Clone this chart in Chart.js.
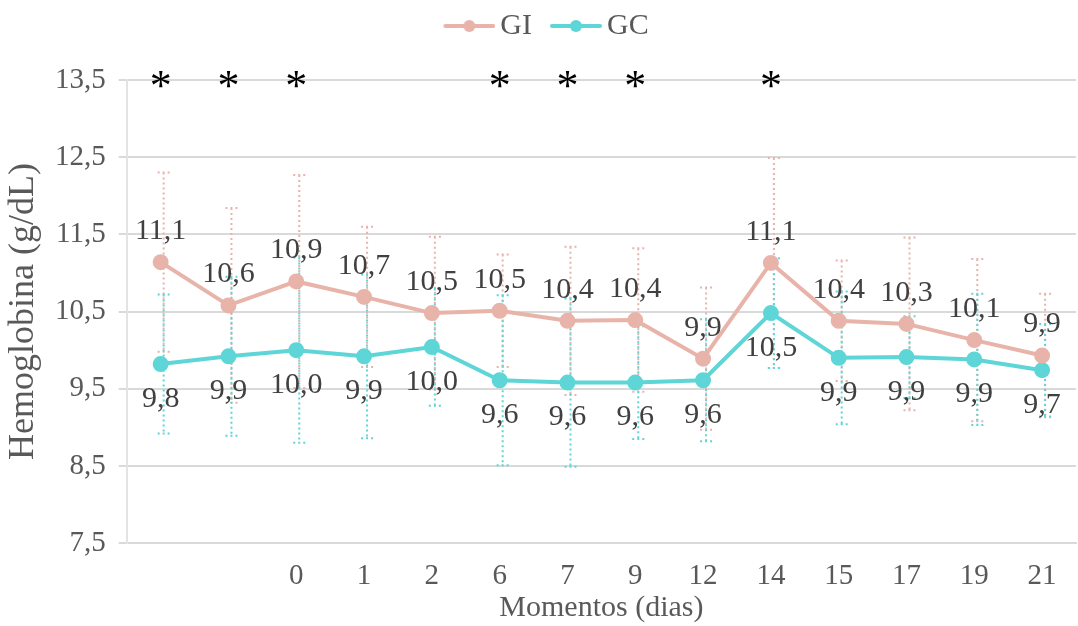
<!DOCTYPE html>
<html>
<head>
<meta charset="utf-8">
<script src="https://cdn.jsdelivr.net/npm/chart.js@4/dist/chart.umd.min.js"></script>
<style>
  html, body { margin: 0; padding: 0; background: #ffffff; overflow: hidden; }
  #wrap { width: 1086px; height: 626px; position: relative; }
</style>
</head>
<body>
<div id="wrap"><canvas id="c"></canvas></div>
<script>
// ---- data ----
const categories = ["", "", "0", "1", "2", "6", "7", "9", "12", "14", "15", "17", "19", "21"];
const giMeans = [11.14, 10.58, 10.89, 10.69, 10.48, 10.51, 10.38, 10.39, 9.89, 11.13, 10.38, 10.34, 10.13, 9.93];
const giSD    = [1.16, 1.26, 1.38, 0.91, 0.99, 0.73, 0.96, 0.93, 0.92, 1.36, 0.78, 1.12, 1.05, 0.80];
const gcMeans = [9.82, 9.92, 10.00, 9.92, 10.04, 9.61, 9.58, 9.58, 9.61, 10.48, 9.90, 9.91, 9.88, 9.74];
const gcSD    = [0.90, 1.03, 1.20, 1.06, 0.76, 1.10, 1.09, 0.73, 0.79, 0.71, 0.86, 0.53, 0.85, 0.60];
const sigMarks = ["*", "*", "*", "", "", "*", "*", "*", "", "*", "", "", "", ""];
const yTicks = [7.5, 8.5, 9.5, 10.5, 11.5, 12.5, 13.5];

const GI_COLOR = "#E8B3A9";
const GC_COLOR = "#5ED5D7";
const FONT = "'Liberation Serif', 'Times New Roman', serif";

function fmt(v) { return v.toFixed(1).replace(".", ","); }

// legend icon: line with a dot; drawn asymmetrically inside its canvas so the
// gap to the text is small while items stay well separated
function legendIcon(color) {
  const c = document.createElement("canvas");
  c.width = 70; c.height = 14;
  const g = c.getContext("2d");
  g.strokeStyle = color; g.lineWidth = 4; g.lineCap = "round";
  g.beginPath(); g.moveTo(20, 7); g.lineTo(68, 7); g.stroke();
  g.fillStyle = color; g.beginPath(); g.arc(44, 7, 6, 0, Math.PI * 2); g.fill();
  return c;
}
const icons = [legendIcon(GI_COLOR), legendIcon(GC_COLOR)];

const sdArrays = [giSD, gcSD];

const legendSpace = {
  id: "legendSpace",
  beforeLayout(chart) {
    const lg = chart.legend;
    if (lg && !lg._patched) {
      const orig = lg.fit;
      lg.fit = function () { orig.call(this); this.height += 29; };
      lg._patched = true;
    }
  }
};

const errorBars = {
  id: "errorBars",
  beforeDatasetsDraw(chart) {
    const ctx = chart.ctx, ys = chart.scales.y;
    [0, 1].forEach(di => {
      const ds = chart.data.datasets[di];
      const meta = chart.getDatasetMeta(di);
      ctx.save();
      ctx.strokeStyle = ds.borderColor;
      ctx.lineWidth = 2;
      ctx.setLineDash([2, 3]);
      meta.data.forEach((pt, j) => {
        const v = ds.data[j], sd = sdArrays[di][j];
        const x = pt.x + 3;
        const yTop = ys.getPixelForValue(v + sd), yBot = ys.getPixelForValue(v - sd);
        ctx.beginPath();
        ctx.moveTo(x, yTop); ctx.lineTo(x, yBot);
        ctx.moveTo(x - 6, yTop); ctx.lineTo(x + 6, yTop);
        ctx.moveTo(x - 6, yBot); ctx.lineTo(x + 6, yBot);
        ctx.stroke();
      });
      ctx.restore();
    });
  }
};

const valueLabels = {
  id: "valueLabels",
  afterDatasetsDraw(chart) {
    const ctx = chart.ctx, ys = chart.scales.y;
    ctx.save();
    ctx.font = "30px " + FONT;
    ctx.fillStyle = "#404040";
    ctx.textAlign = "center";
    ctx.textBaseline = "middle";
    chart.getDatasetMeta(0).data.forEach((pt, j) => {
      ctx.fillText(fmt(giMeans[j]), pt.x, pt.y - 31);
    });
    chart.getDatasetMeta(1).data.forEach((pt, j) => {
      ctx.fillText(fmt(gcMeans[j]), pt.x, pt.y + 35);
    });
    // significance marks
    ctx.font = "44px " + FONT;
    ctx.fillStyle = "#000000";
    const yStar = ys.getPixelForValue(yTicks[yTicks.length - 1]);
    const xs = chart.scales.x;
    sigMarks.forEach((s, j) => {
      if (!s) return;
      ctx.fillText(s, xs.getPixelForValue(j), yStar + 8);
    });
    ctx.restore();
  }
};

new Chart(document.getElementById("c"), {
  type: "line",
  data: {
    labels: categories,
    datasets: [
      { label: "GI", data: giMeans, borderColor: GI_COLOR, backgroundColor: GI_COLOR,
        borderWidth: 4, pointRadius: 6, pointHoverRadius: 6, tension: 0 },
      { label: "GC", data: gcMeans, borderColor: GC_COLOR, backgroundColor: GC_COLOR,
        borderWidth: 4, pointRadius: 6, pointHoverRadius: 6, tension: 0 }
    ]
  },
  options: {
    responsive: true,
    maintainAspectRatio: false,
    animation: false,
    layout: { padding: { left: 0, right: 2, top: 1, bottom: 1 } },
    plugins: {
      tooltip: { enabled: false },
      legend: {
        position: "top",
        labels: {
          usePointStyle: true,
          pointStyleWidth: 50,
          padding: 10,
          color: "#595959",
          font: { family: FONT, size: 30 },
          generateLabels(chart) {
            return chart.data.datasets.map((ds, i) => ({
              text: ds.label, pointStyle: icons[i], fillStyle: ds.borderColor,
              strokeStyle: ds.borderColor, lineWidth: 0, hidden: false, datasetIndex: i,
              fontColor: "#595959"
            }));
          }
        }
      }
    },
    scales: {
      x: {
        offset: true,
        grid: { display: false, drawTicks: false },
        border: { display: true, color: "#D9D9D9", width: 2 },
        ticks: { color: "#595959", font: { family: FONT, size: 29, lineHeight: 1.1 }, padding: 17, maxRotation: 0, autoSkip: false },
        title: { display: true, text: "Momentos (dias)", color: "#595959", font: { family: FONT, size: 30, lineHeight: 1.1 }, padding: { top: -17, bottom: 0 } }
      },
      y: {
        min: yTicks[0],
        max: yTicks[yTicks.length - 1],
        afterBuildTicks(scale) { scale.ticks = yTicks.map(v => ({ value: v })); },
        grid: { color: "#D9D9D9", lineWidth: 2, drawTicks: true, tickLength: 8 },
        border: { display: true, color: "#E3E3E3", width: 2 },
        ticks: { color: "#595959", font: { family: FONT, size: 29 }, padding: 13, callback: v => fmt(v) },
        title: { display: true, text: "Hemoglobina (g/dL)", color: "#595959", font: { family: FONT, size: 36, lineHeight: 1.0 }, padding: { top: 6, bottom: 0 } }
      }
    }
  },
  plugins: [legendSpace, errorBars, valueLabels]
});
</script>
</body>
</html>
